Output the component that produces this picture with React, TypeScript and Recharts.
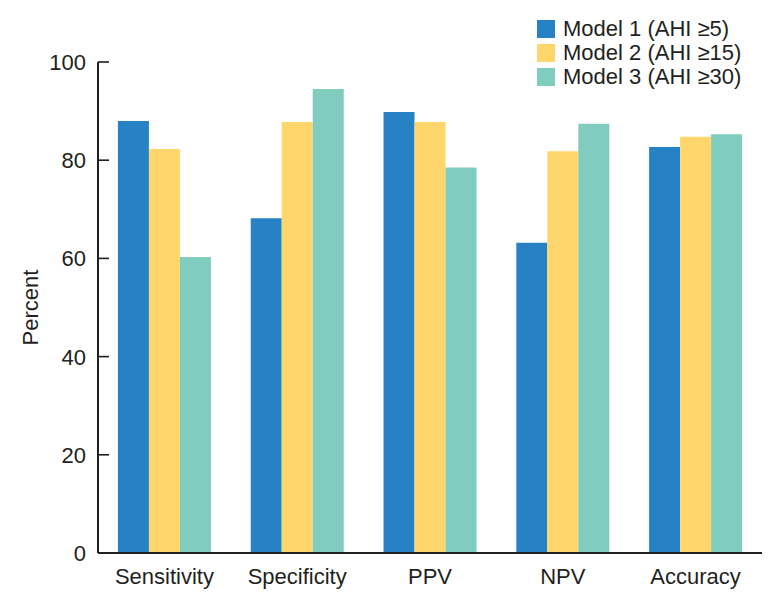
import { BarChart, Bar, XAxis, YAxis } from 'recharts'

const categories = ['Sensitivity', 'Specificity', 'PPV', 'NPV', 'Accuracy']
const model1 = [88.0, 68.2, 89.8, 63.2, 82.7]
const model2 = [82.3, 87.8, 87.8, 81.8, 84.8]
const model3 = [60.3, 94.5, 78.5, 87.4, 85.3]
const yTicks = [0, 20, 40, 60, 80, 100]

const seriesNames = ['Model 1 (AHI \u22655)', 'Model 2 (AHI \u226515)', 'Model 3 (AHI \u226530)']
const colors = ['#2681c5', '#fed66b', '#80cdbf']

const data = categories.map((name, i) => ({
  name,
  m1: model1[i],
  m2: model2[i],
  m3: model3[i]
}))

const FONT = '"Liberation Sans", Arial, sans-serif'
const INK = '#231f20'

const YTick = (props: any) => {
  const { x, y, payload } = props
  const ax = Number(x) + 12
  return (
    <g>
      <text x={x} y={y} dy={8} textAnchor="end" fontSize={22} fill={INK} fontFamily={FONT}>
        {payload.value}
      </text>
      {payload.value !== 0 && (
        <path d={`M${ax},${y}H${ax + 11}`} stroke={INK} strokeWidth={1.6} fill="none" />
      )}
    </g>
  )
}

// legend drawn as an overlay so it does not push the plot down
const LegendBox = () => (
  <div style={{ position: 'absolute', left: 537, top: 17, fontFamily: FONT, fontSize: 22, color: INK, lineHeight: '24px' }}>
    {seriesNames.map((n, i) => (
      <div key={n} style={{ display: 'flex', alignItems: 'center', height: 24 }}>
        <div style={{ width: 18, height: 18, background: colors[i], marginRight: 8 }} />
        <span>{n}</span>
      </div>
    ))}
  </div>
)

export default function App() {
  return (
    <div style={{ position: 'absolute', left: 0, top: 0, width: 772, height: 610, background: '#fff' }}>
      <BarChart
        width={772}
        height={610}
        data={data}
        margin={{ top: 62, right: 10, bottom: 27, left: 0 }}
        barCategoryGap="15%"
        barGap={0}
      >
        <XAxis
          dataKey="name"
          tickLine={false}
          axisLine={{ stroke: INK, strokeWidth: 2 }}
          tick={{ fontSize: 22, fill: INK, fontFamily: FONT }}
          tickMargin={9}
        />
        <YAxis
          width={98}
          domain={[0, 100]}
          ticks={yTicks}
          tickLine={false}
          tickSize={0}
          tickMargin={12}
          axisLine={{ stroke: INK, strokeWidth: 2 }}
          tick={<YTick />}
          label={{
            value: 'Percent',
            angle: -90,
            position: 'insideLeft',
            offset: 30,
            style: { fontSize: 22, fill: INK, fontFamily: FONT, textAnchor: 'middle' }
          }}
        />
        <Bar dataKey="m1" name={seriesNames[0]} fill={colors[0]} isAnimationActive={false} />
        <Bar dataKey="m2" name={seriesNames[1]} fill={colors[1]} isAnimationActive={false} />
        <Bar dataKey="m3" name={seriesNames[2]} fill={colors[2]} isAnimationActive={false} />
      </BarChart>
      <LegendBox />
    </div>
  )
}
